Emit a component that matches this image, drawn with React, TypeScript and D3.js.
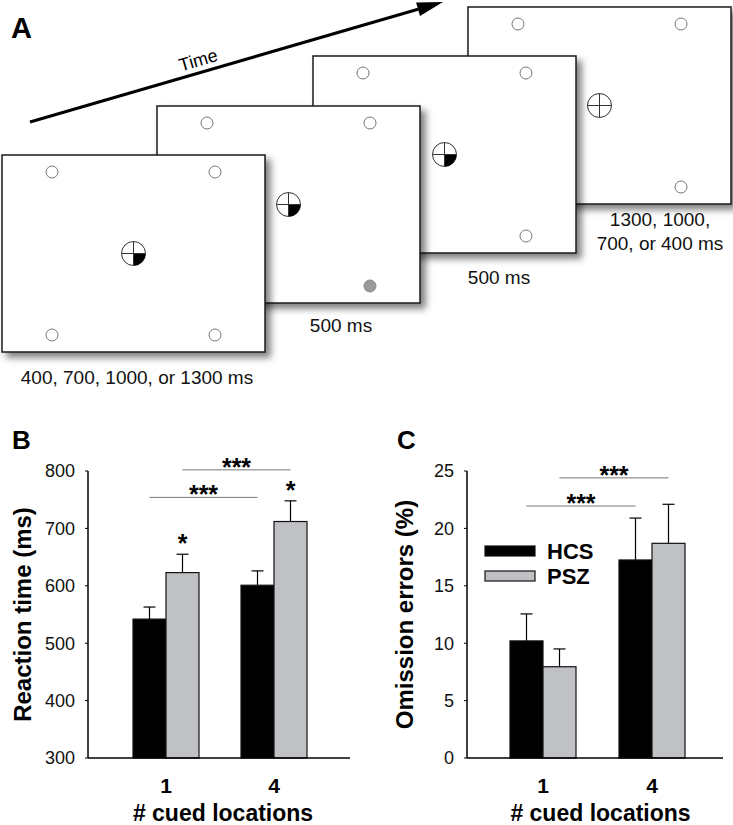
import React from "react";
import * as d3 from "d3";

// ---------- Data ----------
const categories = ["1", "4"];
const groups = ["HCS", "PSZ"];

const rtMean: Record<string, number[]> = { HCS: [542, 601], PSZ: [623, 712] };
const rtErr: Record<string, number[]> = { HCS: [21, 25], PSZ: [32, 36] };
const rtTicks = [300, 400, 500, 600, 700, 800];

const omMean: Record<string, number[]> = { HCS: [10.2, 17.25], PSZ: [7.95, 18.7] };
const omErr: Record<string, number[]> = { HCS: [2.35, 3.65], PSZ: [1.55, 3.4] };
const omTicks = [0, 5, 10, 15, 20, 25];

// significance annotations: [group, level]
const rtSig = [
  { group: "HCS", level: 754, label: "***" },
  { group: "PSZ", level: 802, label: "***" },
];
const omSig = [
  { group: "HCS", level: 21.95, label: "***" },
  { group: "PSZ", level: 24.4, label: "***" },
];
const rtStars = ["*", "*"]; // PSZ vs HCS at each cue count

const frameLabels = [
  ["400, 700, 1000, or 1300 ms"],
  ["500 ms"],
  ["500 ms"],
  ["1300, 1000,", "700, or 400 ms"],
];

const FONT = "'Liberation Sans', Arial, Helvetica, sans-serif";
const colors: Record<string, string> = { HCS: "#000000", PSZ: "#c0c1c5" };

// ---------- Panel A ----------
const FW = 263;
const FH = 197;
const frameOrigins = [
  [2, 155],
  [157, 106],
  [313, 56],
  [468, 7],
];

function Fixation({ cx, cy, filled }: { cx: number; cy: number; filled: boolean }) {
  const r = 12;
  return (
    <g>
      <circle cx={cx} cy={cy} r={r} fill="#fff" stroke="#333" strokeWidth={1} />
      {filled && (
        <path d={`M${cx},${cy} L${cx + r},${cy} A${r},${r} 0 0 1 ${cx},${cy + r} Z`} fill="#000" />
      )}
      <line x1={cx - r} x2={cx + r} y1={cy} y2={cy} stroke="#333" strokeWidth={1} />
      <line x1={cx} x2={cx} y1={cy - r} y2={cy + r} stroke="#333" strokeWidth={1} />
    </g>
  );
}

function Frame({ i }: { i: number }) {
  const [x, y] = frameOrigins[i];
  const places = [
    [x + 50, y + 17],
    [x + FW - 50, y + 17],
    [x + 50, y + FH - 17],
    [x + FW - 50, y + FH - 17],
  ];
  return (
    <g>
      <rect x={x} y={y} width={FW} height={FH} fill="#fff" stroke="#1a1a1a" strokeWidth={1.5} filter="url(#shadow)" />
      {places.map(([px, py], k) => (
        <circle
          key={k}
          cx={px}
          cy={py}
          r={6}
          fill={i === 1 && k === 3 ? "#9a9a9a" : "#fff"}
          stroke={i === 1 && k === 3 ? "#8a8a8a" : "#777"}
          strokeWidth={1}
        />
      ))}
      <Fixation cx={x + FW / 2} cy={y + FH / 2} filled={i < 3} />
    </g>
  );
}

function PanelA() {
  const ax0 = 30, ay0 = 122, ax1 = 443, ay1 = 2;
  const ang = Math.atan2(ay1 - ay0, ax1 - ax0);
  const deg = (ang * 180) / Math.PI;
  const hl = 26, hw = 7;
  const bx = ax1 - hl * Math.cos(ang);
  const by = ay1 - hl * Math.sin(ang);
  const px = -Math.sin(ang), py = Math.cos(ang);
  const labelPos = [
    { x: 137, y: 384 },
    { x: 341, y: 332 },
    { x: 499, y: 284 },
    { x: 660, y: 226 },
  ];
  return (
    <g>
      <text x={11} y={38} fontFamily={FONT} fontWeight="bold" fontSize={29}>A</text>
      <line x1={ax0} y1={ay0} x2={bx} y2={by} stroke="#000" strokeWidth={3} />
      <polygon
        points={`${ax1},${ay1} ${bx + px * hw},${by + py * hw} ${bx - px * hw},${by - py * hw}`}
        fill="#000"
      />
      <text
        transform={`translate(200,66) rotate(${deg})`}
        textAnchor="middle"
        fontFamily={FONT}
        fontSize={18}
      >
        Time
      </text>
      {[3, 2, 1, 0].map((i) => (
        <Frame key={i} i={i} />
      ))}
      {frameLabels.map((lines, i) => (
        <text key={i} textAnchor="middle" fontFamily={FONT} fontSize={19} fill="#111">
          {lines.map((l, k) => (
            <tspan key={k} x={labelPos[i].x} y={labelPos[i].y + k * 24}>
              {l}
            </tspan>
          ))}
        </text>
      ))}
    </g>
  );
}

// ---------- Bar panels ----------
type BarProps = {
  letter: string;
  letterX: number;
  axisX: number;
  axisRight: number;
  centers: [number, number];
  domain: [number, number];
  ticks: number[];
  means: Record<string, number[]>;
  errs: Record<string, number[]>;
  sig: { group: string; level: number; label: string }[];
  stars?: string[];
  ylabel: string;
  ylabelX: number;
  legend?: boolean;
};

function BarPanel(p: BarProps) {
  const yTop = 471, yBot = 758;
  const y = d3.scaleLinear().domain(p.domain).range([yBot, yTop]);
  const step = p.centers[1] - p.centers[0];
  const x0 = d3
    .scaleBand<string>()
    .domain(categories)
    .range([p.centers[0] - step / 2, p.centers[1] + step / 2])
    .padding(0);
  const barW = 33;
  const x1 = d3.scaleBand<string>().domain(groups).range([0, barW * 2]);
  const barX = (c: string, g: string) => (x0(c) as number) + x0.bandwidth() / 2 - barW + (x1(g) as number);
  const barCx = (c: string, g: string) => barX(c, g) + barW / 2;
  const cap = 6;

  return (
    <g fontFamily={FONT}>
      <text x={p.letterX} y={449} fontWeight="bold" fontSize={26}>{p.letter}</text>
      {/* y label */}
      <text
        transform={`translate(${p.ylabelX},${(yTop + yBot) / 2}) rotate(-90)`}
        textAnchor="middle"
        fontWeight="bold"
        fontSize={24}
      >
        {p.ylabel}
      </text>
      {/* ticks */}
      {p.ticks.map((t) => (
        <g key={t}>
          <line x1={p.axisX - 3} x2={p.axisX} y1={y(t)} y2={y(t)} stroke="#000" strokeWidth={1} />
          <text x={p.axisX - 13} y={y(t)} dy="0.36em" textAnchor="end" fontSize={18} fill="#111">
            {t}
          </text>
        </g>
      ))}
      {/* error bars */}
      {categories.map((c, ci) =>
        groups.map((g) => {
          const cx = barCx(c, g);
          const v = p.means[g][ci];
          const e = v + p.errs[g][ci];
          return (
            <g key={c + g + "e"}>
              <line x1={cx} x2={cx} y1={y(v)} y2={y(e)} stroke="#000" strokeWidth={1.2} />
              <line x1={cx - cap} x2={cx + cap} y1={y(e)} y2={y(e)} stroke="#000" strokeWidth={1.2} />
            </g>
          );
        })
      )}
      {/* bars */}
      {categories.map((c, ci) =>
        groups.map((g) => {
          const v = p.means[g][ci];
          return (
            <rect
              key={c + g}
              x={barX(c, g)}
              y={y(v)}
              width={barW}
              height={y(p.domain[0]) - y(v)}
              fill={colors[g]}
              stroke="#111"
              strokeWidth={1.2}
            />
          );
        })
      )}
      {/* axes */}
      <line x1={p.axisX} x2={p.axisX} y1={yTop} y2={yBot} stroke="#000" strokeWidth={1.5} />
      <line x1={p.axisX} x2={p.axisRight} y1={yBot} y2={yBot} stroke="#000" strokeWidth={1.5} />
      {/* category labels */}
      {categories.map((c) => (
        <text
          key={c}
          x={(x0(c) as number) + x0.bandwidth() / 2}
          y={793}
          textAnchor="middle"
          fontWeight="bold"
          fontSize={21}
        >
          {c}
        </text>
      ))}
      <text
        x={(p.centers[0] + p.centers[1]) / 2 + 3}
        y={821}
        textAnchor="middle"
        fontWeight="bold"
        fontSize={23}
      >
        # cued locations
      </text>
      {/* significance lines */}
      {p.sig.map((s, k) => {
        const xa = barCx(categories[0], s.group);
        const xb = barCx(categories[1], s.group);
        const yy = y(s.level);
        return (
          <g key={k}>
            <line x1={xa} x2={xb} y1={yy} y2={yy} stroke="#777" strokeWidth={1} />
            <text x={(xa + xb) / 2} y={yy + 6} textAnchor="middle" fontWeight="bold" fontSize={25}>
              {s.label}
            </text>
          </g>
        );
      })}
      {p.stars &&
        p.stars.map((s, ci) => {
          const c = categories[ci];
          const e = p.means.PSZ[ci] + p.errs.PSZ[ci];
          return (
            <text key={ci} x={barCx(c, "PSZ")} y={y(e) - 2} textAnchor="middle" fontWeight="bold" fontSize={25}>
              {s}
            </text>
          );
        })}
      {p.legend &&
        groups.map((g, k) => (
          <g key={g}>
            <rect x={485} y={546 + k * 25} width={50} height={10} fill={colors[g]} stroke="#111" strokeWidth={1.2} />
            <text x={547} y={551 + k * 25} dy="0.36em" fontWeight="bold" fontSize={22}>
              {g}
            </text>
          </g>
        ))}
    </g>
  );
}

export default function App() {
  return (
    <svg
      width={733}
      height={825}
      viewBox="0 0 733 825"
      style={{ position: "absolute", left: 0, top: 0, background: "#fff" }}
    >
      <defs>
        <filter id="shadow" x="-10%" y="-10%" width="130%" height="130%">
          <feDropShadow dx={5} dy={5} stdDeviation={3.5} floodColor="#000" floodOpacity={0.5} />
        </filter>
      </defs>
      <rect width={733} height={825} fill="#fff" />
      <PanelA />
      <BarPanel
        letter="B"
        letterX={12}
        axisX={88}
        axisRight={350}
        centers={[166, 274]}
        domain={[300, 800]}
        ticks={rtTicks}
        means={rtMean}
        errs={rtErr}
        sig={rtSig}
        stars={rtStars}
        ylabel="Reaction time (ms)"
        ylabelX={31}
      />
      <BarPanel
        letter="C"
        letterX={397}
        axisX={467}
        axisRight={723}
        centers={[543, 652]}
        domain={[0, 25]}
        ticks={omTicks}
        means={omMean}
        errs={omErr}
        sig={omSig}
        ylabel="Omission errors (%)"
        ylabelX={413}
        legend
      />
    </svg>
  );
}
